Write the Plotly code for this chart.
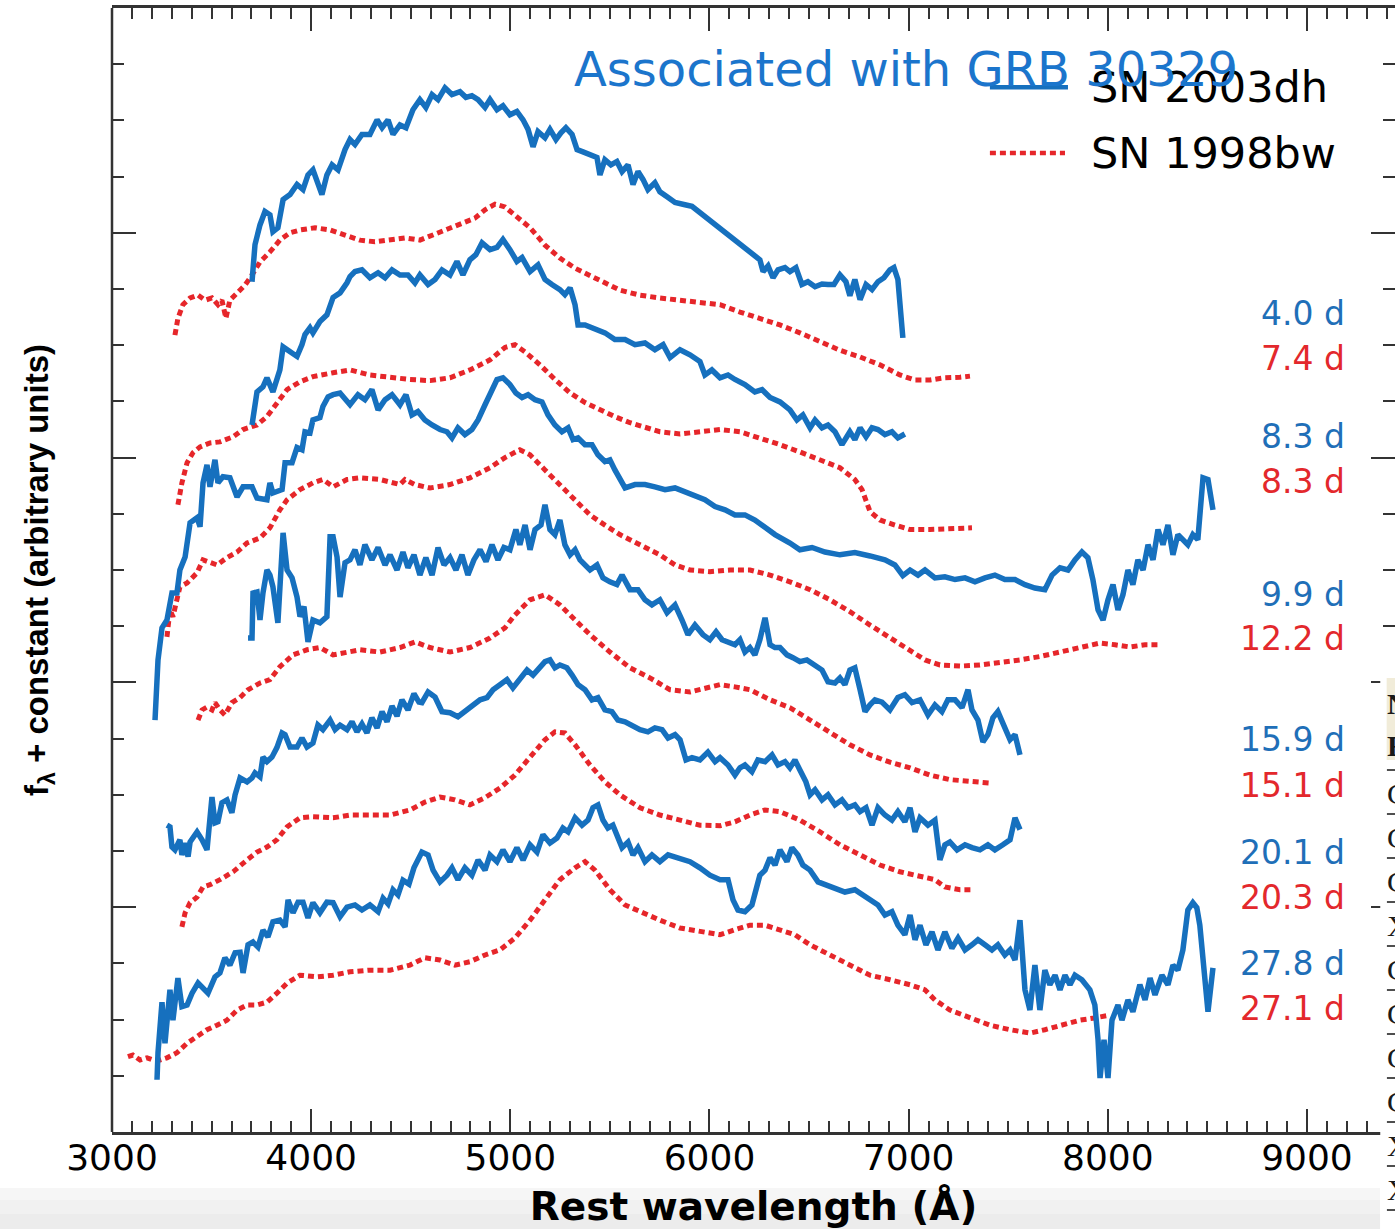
import plotly.graph_objects as go

# ---------------------------------------------------------------------------
# Spectra: rest wavelength (Angstrom) and flux + constant offset (arbitrary)
# SN 2003dh (solid blue) and SN 1998bw (dotted red) at matched epochs
# ---------------------------------------------------------------------------

# SN 2003dh, 4.0 d
dh_4p0_wave = [3703, 3718, 3743, 3768, 3793, 3808, 3833, 3859, 3894, 3929, 3959, 3984, 4009, 4034, 4054, 4079,
               4105, 4135, 4170, 4195, 4220, 4255, 4295, 4331, 4356, 4386, 4411, 4446, 4476, 4511, 4546, 4576,
               4607, 4637, 4672, 4707, 4747, 4777, 4807, 4838, 4873, 4898, 4933, 4963, 4998, 5033, 5064, 5089,
               5114, 5139, 5174, 5199, 5229, 5254, 5279, 5310, 5335, 5365, 5400, 5435, 5450, 5475, 5505, 5535,
               5561, 5591, 5616, 5641, 5666, 5691, 5726, 5751, 5787, 5827, 5877, 5912, 6253, 6269, 6294, 6319,
               6344, 6379, 6404, 6434, 6464, 6494, 6530, 6565, 6595, 6625, 6655, 6685, 6705, 6730, 6756, 6786,
               6816, 6846, 6876, 6906, 6926, 6946, 6971]
dh_4p0_flux = [15.13, 15.79, 16.14, 16.38, 16.32, 16.02, 16.09, 16.59, 16.68, 16.86, 16.77, 17.03, 17.12, 16.86,
               16.68, 17.03, 17.21, 17.12, 17.48, 17.66, 17.57, 17.75, 17.75, 18.01, 17.87, 18.01, 17.75, 17.92,
               17.87, 18.19, 18.37, 18.23, 18.46, 18.37, 18.58, 18.46, 18.51, 18.41, 18.44, 18.37, 18.23, 18.37,
               18.19, 18.26, 18.10, 18.16, 18.01, 17.84, 17.53, 17.80, 17.69, 17.84, 17.66, 17.78, 17.87, 17.75,
               17.48, 17.44, 17.39, 17.34, 17.03, 17.30, 17.21, 17.27, 17.09, 17.21, 16.86, 17.09, 16.95, 16.77,
               16.89, 16.73, 16.64, 16.54, 16.50, 16.47, 15.52, 15.31, 15.41, 15.20, 15.34, 15.38, 15.31, 15.38,
               15.08, 15.13, 15.04, 15.09, 15.08, 15.08, 15.25, 15.13, 14.88, 15.17, 14.81, 15.08, 14.99, 15.13,
               15.20, 15.34, 15.38, 15.17, 14.13]

# SN 2003dh, 8.3 d
dh_8p3_wave = [3703, 3728, 3758, 3778, 3808, 3843, 3859, 3894, 3929, 3954, 3969, 3994, 4009, 4044, 4079, 4110,
               4145, 4180, 4195, 4220, 4255, 4295, 4336, 4371, 4406, 4446, 4486, 4521, 4546, 4587, 4622, 4657,
               4697, 4732, 4762, 4797, 4827, 4858, 4898, 4933, 4963, 4998, 5033, 5059, 5099, 5139, 5174, 5209,
               5249, 5274, 5300, 5325, 5340, 5375, 5425, 5475, 5525, 5576, 5626, 5676, 5726, 5767, 5802, 5852,
               5902, 5952, 5977, 6012, 6053, 6093, 6128, 6178, 6228, 6264, 6304, 6354, 6404, 6439, 6469, 6505,
               6530, 6565, 6595, 6630, 6665, 6705, 6730, 6756, 6786, 6816, 6846, 6881, 6916, 6946, 6981]
dh_8p3_flux = [12.58, 13.17, 13.26, 13.42, 13.17, 13.56, 13.97, 13.87, 13.80, 14.01, 14.19, 14.31, 14.22, 14.42,
               14.54, 14.85, 14.93, 15.11, 15.22, 15.31, 15.34, 15.20, 15.29, 15.20, 15.34, 15.25, 15.25, 15.11,
               15.25, 15.08, 15.17, 15.34, 15.25, 15.49, 15.25, 15.52, 15.61, 15.82, 15.70, 15.74, 15.88, 15.70,
               15.49, 15.56, 15.31, 15.43, 15.17, 15.08, 14.99, 14.90, 15.02, 14.72, 14.36, 14.36, 14.28, 14.22,
               14.10, 14.10, 14.01, 14.04, 13.92, 14.01, 13.78, 13.92, 13.83, 13.71, 13.47, 13.56, 13.42, 13.47,
               13.39, 13.30, 13.17, 13.21, 13.07, 12.99, 12.85, 12.67, 12.76, 12.53, 12.67, 12.53, 12.58, 12.46,
               12.23, 12.46, 12.32, 12.53, 12.37, 12.53, 12.50, 12.41, 12.46, 12.35, 12.42]

# SN 2003dh, 9.9 d
dh_9p9_wave = [3216, 3231, 3251, 3276, 3301, 3326, 3341, 3367, 3392, 3427, 3442, 3457, 3477, 3492, 3517, 3532,
               3557, 3592, 3628, 3658, 3703, 3728, 3778, 3793, 3808, 3854, 3869, 3904, 3929, 3954, 3969, 3994,
               4009, 4044, 4059, 4085, 4110, 4145, 4195, 4235, 4270, 4305, 4336, 4371, 4406, 4446, 4476, 4506,
               4536, 4571, 4607, 4647, 4682, 4707, 4737, 4772, 4807, 4838, 4873, 4898, 4933, 4963, 4998, 5028,
               5059, 5089, 5124, 5159, 5189, 5224, 5259, 5290, 5315, 5340, 5375, 5410, 5440, 5475, 5500, 5525,
               5550, 5576, 5626, 5676, 5726, 5777, 5827, 5877, 5927, 5977, 6028, 6078, 6128, 6178, 6228, 6279,
               6329, 6404, 6454, 6515, 6580, 6655, 6730, 6806, 6881, 6931, 6971, 7007, 7047, 7082, 7132, 7182,
               7233, 7283, 7333, 7383, 7433, 7483, 7534, 7584, 7634, 7684, 7720, 7760, 7800, 7835, 7870, 7900,
               7925, 7951, 7976, 8001, 8026, 8051, 8076, 8101, 8126, 8151, 8177, 8202, 8227, 8252, 8277, 8302,
               8327, 8352, 8377, 8402, 8427, 8452, 8478, 8503, 8528]
dh_9p9_flux = [7.33, 8.40, 8.97, 9.11, 9.59, 9.59, 10.00, 10.23, 10.84, 10.93, 10.77, 11.55, 11.87, 11.48, 11.96,
               11.55, 11.66, 11.64, 11.30, 11.48, 11.48, 11.28, 11.25, 11.55, 11.37, 11.43, 11.91, 11.91, 12.18,
               12.14, 12.46, 12.44, 12.67, 12.71, 12.91, 13.08, 13.12, 13.15, 12.94, 13.12, 13.03, 13.21, 12.85,
               13.03, 13.12, 12.94, 13.12, 12.76, 12.82, 12.67, 12.58, 12.50, 12.46, 12.35, 12.53, 12.41, 12.50,
               12.67, 12.94, 13.12, 13.39, 13.42, 13.30, 13.15, 13.07, 13.12, 13.03, 12.99, 12.76, 12.58, 12.46,
               12.53, 12.32, 12.35, 12.23, 12.23, 12.05, 11.93, 11.96, 11.78, 11.64, 11.46, 11.52, 11.52, 11.48,
               11.43, 11.46, 11.39, 11.30, 11.25, 11.13, 11.07, 10.98, 10.98, 10.89, 10.75, 10.63, 10.48, 10.36,
               10.40, 10.32, 10.27, 10.31, 10.25, 10.18, 10.09, 9.90, 10.00, 9.91, 10.00, 9.86, 9.88, 9.83, 9.86,
               9.79, 9.86, 9.91, 9.83, 9.83, 9.74, 9.68, 9.65, 9.91, 10.04, 10.00, 10.18, 10.32, 10.22, 9.83, 9.29,
               9.11, 9.47, 9.74, 9.29, 9.56, 10.00, 9.74, 10.18, 10.00, 10.45, 10.18, 10.72, 10.45, 10.80, 10.27,
               10.63, 10.54, 10.45, 10.63, 10.54, 11.64, 11.61, 11.07]

# SN 2003dh, 15.9 d
dh_15p9_wave = [3683, 3703, 3708, 3728, 3743, 3758, 3778, 3793, 3808, 3833, 3859, 3879, 3904, 3929, 3944, 3964,
                3984, 4009, 4044, 4079, 4095, 4110, 4130, 4145, 4170, 4195, 4220, 4245, 4270, 4305, 4336, 4371,
                4396, 4431, 4461, 4486, 4516, 4546, 4576, 4607, 4637, 4667, 4697, 4727, 4757, 4787, 4817, 4848,
                4878, 4908, 4938, 4968, 4998, 5028, 5048, 5074, 5099, 5124, 5154, 5174, 5199, 5224, 5249, 5274,
                5300, 5325, 5350, 5375, 5400, 5435, 5465, 5500, 5535, 5561, 5601, 5641, 5676, 5711, 5751, 5787,
                5827, 5862, 5892, 5927, 5967, 6002, 6033, 6063, 6093, 6128, 6153, 6178, 6203, 6228, 6253, 6279,
                6304, 6329, 6354, 6389, 6419, 6454, 6489, 6530, 6565, 6595, 6630, 6655, 6680, 6705, 6730, 6756,
                6781, 6806, 6831, 6866, 6906, 6946, 6981, 7017, 7057, 7097, 7132, 7167, 7197, 7233, 7268, 7298,
                7318, 7348, 7373, 7398, 7423, 7448, 7483, 7509, 7534, 7559]
dh_15p9_flux = [8.79, 8.79, 9.59, 9.61, 9.11, 9.59, 10.00, 9.91, 9.70, 9.06, 10.66, 10.00, 9.86, 9.52, 9.17, 9.35,
                8.72, 9.11, 9.06, 9.17, 10.59, 10.59, 10.23, 9.52, 10.13, 10.18, 10.36, 10.09, 10.45, 10.18, 10.40,
                10.09, 10.27, 10.00, 10.32, 10.04, 10.27, 9.91, 10.22, 9.91, 10.40, 10.09, 10.22, 10.00, 10.27,
                9.91, 10.18, 10.36, 10.15, 10.45, 10.18, 10.40, 10.36, 10.72, 10.45, 10.80, 10.36, 10.72, 10.80,
                11.16, 10.72, 10.63, 10.89, 10.45, 10.27, 10.36, 10.18, 10.09, 10.00, 10.09, 9.86, 9.79, 9.74,
                9.91, 9.65, 9.65, 9.47, 9.38, 9.47, 9.24, 9.38, 9.11, 8.85, 9.02, 8.85, 8.76, 8.90, 8.76, 8.72,
                8.67, 8.76, 8.54, 8.62, 8.49, 8.76, 9.15, 8.67, 8.62, 8.62, 8.49, 8.44, 8.37, 8.40, 8.31, 8.22,
                8.01, 7.99, 8.08, 7.96, 8.22, 8.26, 7.87, 7.48, 7.60, 7.69, 7.65, 7.51, 7.73, 7.78, 7.64, 7.69,
                7.42, 7.60, 7.48, 7.69, 7.69, 7.55, 7.87, 7.51, 7.33, 6.94, 7.07, 7.37, 7.48, 7.16, 6.98, 7.07, 6.71]

# SN 2003dh, 20.1 d
dh_20p1_wave = [3276, 3291, 3301, 3316, 3341, 3351, 3367, 3382, 3392, 3427, 3452, 3477, 3502, 3517, 3532, 3552,
                3577, 3602, 3618, 3643, 3678, 3703, 3718, 3743, 3758, 3778, 3803, 3828, 3854, 3869, 3894, 3929,
                3954, 3979, 4009, 4034, 4059, 4095, 4120, 4145, 4180, 4205, 4230, 4255, 4280, 4305, 4331, 4356,
                4381, 4406, 4431, 4456, 4486, 4516, 4541, 4556, 4587, 4622, 4657, 4697, 4737, 4772, 4807, 4848,
                4883, 4913, 4948, 4983, 5013, 5048, 5084, 5114, 5149, 5174, 5199, 5224, 5249, 5284, 5310, 5340,
                5375, 5410, 5440, 5475, 5510, 5540, 5576, 5611, 5651, 5691, 5726, 5762, 5792, 5827, 5852, 5882,
                5912, 5952, 5992, 6028, 6053, 6093, 6128, 6153, 6178, 6213, 6243, 6279, 6314, 6344, 6379, 6404,
                6429, 6454, 6484, 6505, 6530, 6565, 6595, 6630, 6665, 6695, 6730, 6756, 6786, 6816, 6846, 6881,
                6916, 6946, 6981, 7007, 7032, 7057, 7097, 7132, 7157, 7182, 7207, 7243, 7283, 7318, 7358, 7398,
                7433, 7473, 7509, 7534, 7559]
dh_20p1_flux = [5.46, 5.43, 5.07, 5.02, 5.20, 4.93, 5.14, 4.90, 5.16, 5.34, 5.20, 5.02, 5.96, 5.50, 5.52, 5.86,
                5.91, 5.68, 6.00, 6.30, 6.23, 6.30, 6.39, 6.32, 6.67, 6.59, 6.67, 6.84, 7.10, 7.07, 6.85, 6.85,
                7.01, 6.85, 6.92, 7.24, 7.16, 7.33, 7.16, 7.24, 7.16, 7.30, 7.12, 7.26, 7.10, 7.37, 7.19, 7.48,
                7.30, 7.58, 7.40, 7.69, 7.51, 7.80, 7.65, 7.64, 7.83, 7.74, 7.48, 7.46, 7.39, 7.48, 7.60, 7.69,
                7.73, 7.87, 7.96, 8.05, 7.90, 8.05, 8.22, 8.13, 8.26, 8.37, 8.40, 8.26, 8.31, 8.26, 8.13, 7.96,
                7.87, 7.69, 7.73, 7.51, 7.48, 7.33, 7.30, 7.24, 7.16, 7.12, 7.19, 7.16, 7.01, 7.07, 6.98, 6.62,
                6.66, 6.62, 6.76, 6.59, 6.66, 6.53, 6.35, 6.48, 6.53, 6.41, 6.62, 6.59, 6.71, 6.53, 6.59, 6.48,
                6.62, 6.44, 6.23, 6.00, 6.09, 5.91, 6.00, 5.82, 5.91, 5.77, 5.82, 5.70, 5.77, 5.46, 5.77, 5.64,
                5.55, 5.70, 5.52, 5.77, 5.34, 5.59, 5.46, 5.55, 4.84, 5.11, 5.16, 5.02, 5.11, 5.06, 5.02, 5.11,
                5.02, 5.11, 5.20, 5.59, 5.38]

# SN 2003dh, 27.8 d
dh_27p8_wave = [3226, 3231, 3251, 3266, 3291, 3306, 3331, 3351, 3377, 3402, 3432, 3457, 3482, 3517, 3542, 3567,
                3592, 3618, 3643, 3658, 3683, 3708, 3733, 3758, 3783, 3808, 3843, 3869, 3884, 3909, 3934, 3959,
                3984, 4009, 4044, 4079, 4110, 4145, 4180, 4220, 4255, 4295, 4336, 4361, 4386, 4411, 4436, 4461,
                4491, 4516, 4541, 4556, 4587, 4612, 4647, 4682, 4707, 4737, 4772, 4807, 4838, 4873, 4898, 4933,
                4963, 4998, 5033, 5064, 5099, 5134, 5164, 5199, 5234, 5264, 5290, 5325, 5360, 5390, 5415, 5440,
                5465, 5490, 5515, 5540, 5561, 5591, 5616, 5641, 5676, 5711, 5751, 5792, 5832, 5867, 5902, 5952,
                6002, 6053, 6093, 6118, 6143, 6178, 6213, 6253, 6279, 6304, 6329, 6354, 6389, 6414, 6444, 6469,
                6505, 6545, 6580, 6630, 6680, 6730, 6766, 6806, 6846, 6881, 6916, 6946, 6981, 7007, 7032, 7057,
                7087, 7117, 7147, 7182, 7217, 7248, 7283, 7318, 7348, 7383, 7418, 7448, 7483, 7509, 7534, 7559,
                7584, 7609, 7634, 7659, 7684, 7709, 7735, 7760, 7785, 7810, 7835, 7870, 7910, 7935, 7951, 7961,
                7981, 8001, 8021, 8051, 8071, 8101, 8126, 8161, 8187, 8212, 8237, 8272, 8302, 8327, 8352, 8377,
                8402, 8427, 8447, 8462, 8478, 8503, 8528]
dh_27p8_flux = [0.93, 1.41, 2.31, 1.58, 2.53, 1.99, 2.74, 2.23, 2.26, 2.47, 2.65, 2.56, 2.47, 2.76, 2.83, 3.10,
                2.97, 3.19, 3.20, 2.83, 3.33, 3.38, 3.29, 3.59, 3.47, 3.74, 3.77, 3.65, 4.13, 3.90, 4.09, 4.09,
                3.81, 4.08, 3.90, 4.09, 4.08, 3.83, 4.00, 4.04, 3.95, 4.04, 3.92, 4.16, 4.06, 4.31, 4.22, 4.48,
                4.41, 4.70, 4.88, 4.98, 4.93, 4.66, 4.45, 4.57, 4.70, 4.49, 4.70, 4.57, 4.84, 4.66, 4.93, 4.81,
                5.02, 4.81, 5.06, 4.84, 5.11, 4.98, 5.29, 5.14, 5.23, 5.41, 5.34, 5.59, 5.46, 5.55, 5.77, 5.82,
                5.55, 5.41, 5.46, 5.23, 5.06, 5.16, 4.93, 5.06, 4.81, 4.93, 4.81, 4.93, 4.88, 4.84, 4.81, 4.70,
                4.57, 4.49, 4.49, 4.13, 3.95, 3.92, 4.04, 4.57, 4.66, 4.88, 4.75, 5.02, 4.81, 5.06, 4.93, 4.75,
                4.66, 4.45, 4.40, 4.34, 4.27, 4.31, 4.22, 4.13, 4.04, 3.86, 3.92, 3.68, 3.51, 3.86, 3.42, 3.68,
                3.33, 3.56, 3.24, 3.56, 3.27, 3.45, 3.24, 3.33, 3.42, 3.33, 3.24, 3.33, 3.15, 3.24, 3.06, 3.77,
                2.53, 2.17, 2.97, 2.17, 2.88, 2.62, 2.79, 2.53, 2.79, 2.62, 2.79, 2.71, 2.53, 2.26, 1.64, 0.96,
                1.64, 0.96, 1.99, 2.26, 1.99, 2.35, 2.14, 2.62, 2.35, 2.74, 2.44, 2.79, 2.62, 2.97, 2.88, 3.24,
                3.95, 4.08, 3.99, 3.68, 3.15, 2.14, 2.92]

# SN 1998bw, 7.4 d
bw_7p4_wave = [3316, 3331, 3356, 3392, 3432, 3467, 3502, 3532, 3552, 3572, 3592, 3633, 3668, 3703, 3743, 3793,
               3843, 3894, 3944, 4019, 4095, 4170, 4245, 4320, 4396, 4471, 4546, 4647, 4747, 4822, 4873, 4923,
               4973, 5023, 5099, 5174, 5249, 5325, 5400, 5475, 5550, 5651, 5751, 5852, 5952, 6053, 6153, 6253,
               6354, 6454, 6555, 6655, 6756, 6856, 6956, 7032, 7107, 7182, 7258, 7308]
bw_7p4_flux = [14.18, 14.48, 14.72, 14.84, 14.89, 14.80, 14.84, 14.72, 14.80, 14.48, 14.80, 14.95, 15.07, 15.25,
               15.48, 15.66, 15.87, 16.00, 16.05, 16.09, 16.05, 15.96, 15.87, 15.84, 15.87, 15.91, 15.87, 16.01,
               16.14, 16.26, 16.41, 16.51, 16.46, 16.32, 16.09, 15.78, 15.55, 15.37, 15.25, 15.11, 14.98, 14.89,
               14.84, 14.80, 14.75, 14.72, 14.59, 14.48, 14.36, 14.22, 14.06, 13.91, 13.79, 13.65, 13.47, 13.38,
               13.38, 13.42, 13.43, 13.45]

# SN 1998bw, 8.3 d
bw_8p3_wave = [3331, 3351, 3377, 3407, 3442, 3492, 3542, 3608, 3658, 3728, 3778, 3828, 3879, 3944, 4009, 4110,
               4195, 4295, 4396, 4496, 4597, 4697, 4797, 4898, 4973, 5023, 5074, 5149, 5224, 5300, 5375, 5450,
               5525, 5601, 5676, 5751, 5852, 5952, 6053, 6153, 6253, 6354, 6454, 6555, 6655, 6730, 6766, 6806,
               6856, 6931, 7007, 7107, 7207, 7318]
bw_8p3_flux = [11.16, 11.55, 11.91, 12.09, 12.19, 12.26, 12.28, 12.37, 12.50, 12.58, 12.73, 12.98, 13.21, 13.35,
               13.44, 13.51, 13.56, 13.47, 13.42, 13.39, 13.37, 13.42, 13.56, 13.74, 13.96, 14.01, 13.88, 13.65,
               13.39, 13.15, 12.98, 12.85, 12.73, 12.62, 12.53, 12.46, 12.42, 12.46, 12.50, 12.46, 12.35, 12.23,
               12.10, 11.96, 11.82, 11.61, 11.43, 11.04, 10.89, 10.80, 10.72, 10.72, 10.73, 10.75]

# SN 1998bw, 12.2 d
bw_12p2_wave = [3276, 3291, 3306, 3326, 3341, 3377, 3427, 3457, 3492, 3527, 3577, 3628, 3678, 3743, 3793, 3843,
                3879, 3944, 4009, 4059, 4110, 4180, 4245, 4346, 4446, 4471, 4521, 4597, 4697, 4797, 4898, 4973,
                5048, 5099, 5174, 5249, 5325, 5400, 5475, 5550, 5651, 5751, 5827, 5902, 6002, 6103, 6203, 6304,
                6404, 6505, 6605, 6705, 6806, 6906, 7007, 7082, 7157, 7258, 7358, 7458, 7559, 7659, 7760, 7860,
                7961, 8036, 8111, 8187, 8262]
bw_12p2_flux = [8.81, 9.29, 9.17, 9.47, 9.70, 9.77, 9.95, 10.18, 10.13, 10.09, 10.22, 10.32, 10.48, 10.57, 10.75,
                11.07, 11.25, 11.43, 11.55, 11.61, 11.48, 11.61, 11.64, 11.61, 11.52, 11.61, 11.52, 11.46, 11.52,
                11.64, 11.82, 12.00, 12.14, 12.05, 11.78, 11.52, 11.25, 10.98, 10.80, 10.63, 10.45, 10.27, 10.09,
                10.00, 9.97, 10.00, 10.00, 9.91, 9.79, 9.65, 9.47, 9.26, 9.02, 8.79, 8.58, 8.40, 8.31, 8.29, 8.31,
                8.35, 8.40, 8.46, 8.54, 8.62, 8.70, 8.67, 8.63, 8.67, 8.67]

# SN 1998bw, 15.1 d
bw_15p1_wave = [3432, 3452, 3477, 3502, 3517, 3542, 3567, 3602, 3643, 3683, 3743, 3793, 3843, 3879, 3909, 3979,
                4044, 4110, 4180, 4245, 4346, 4446, 4521, 4597, 4697, 4797, 4898, 4973, 5023, 5099, 5174, 5249,
                5325, 5400, 5500, 5601, 5701, 5802, 5902, 5977, 6053, 6128, 6203, 6304, 6404, 6505, 6605, 6705,
                6806, 6906, 7007, 7107, 7207, 7308, 7408]
bw_15p1_flux = [7.33, 7.51, 7.56, 7.51, 7.64, 7.51, 7.42, 7.64, 7.73, 7.87, 7.99, 8.05, 8.28, 8.40, 8.49, 8.58,
                8.62, 8.49, 8.54, 8.58, 8.54, 8.62, 8.72, 8.62, 8.54, 8.62, 8.79, 8.97, 9.20, 9.47, 9.56, 9.38,
                9.11, 8.85, 8.54, 8.26, 8.08, 7.87, 7.83, 7.90, 7.96, 7.92, 7.87, 7.69, 7.55, 7.33, 7.10, 6.89,
                6.71, 6.58, 6.48, 6.35, 6.27, 6.23, 6.21]

# SN 1998bw, 20.3 d
bw_20p3_wave = [3351, 3367, 3392, 3427, 3457, 3492, 3542, 3608, 3678, 3728, 3778, 3828, 3879, 3944, 4009, 4110,
                4195, 4295, 4396, 4496, 4571, 4647, 4722, 4797, 4873, 4948, 5023, 5099, 5174, 5224, 5274, 5325,
                5400, 5475, 5550, 5651, 5751, 5852, 5952, 6053, 6128, 6203, 6279, 6354, 6454, 6555, 6655, 6756,
                6856, 6956, 7057, 7132, 7182, 7258, 7318]
bw_20p3_flux = [3.65, 3.90, 4.08, 4.18, 4.36, 4.40, 4.49, 4.63, 4.84, 4.98, 5.07, 5.20, 5.43, 5.59, 5.61, 5.59,
                5.64, 5.64, 5.64, 5.73, 5.87, 5.96, 5.91, 5.82, 5.95, 6.12, 6.35, 6.67, 6.98, 7.12, 7.10, 6.89,
                6.53, 6.23, 6.00, 5.77, 5.64, 5.55, 5.46, 5.45, 5.52, 5.64, 5.73, 5.70, 5.55, 5.34, 5.11, 4.93,
                4.75, 4.63, 4.54, 4.49, 4.36, 4.31, 4.31]

# SN 1998bw, 27.1 d
bw_27p1_wave = [3080, 3105, 3141, 3176, 3206, 3241, 3276, 3326, 3377, 3427, 3477, 3527, 3577, 3628, 3678, 3728,
                3778, 3828, 3879, 3944, 4029, 4110, 4195, 4295, 4396, 4496, 4571, 4647, 4722, 4797, 4873, 4948,
                5023, 5099, 5174, 5249, 5325, 5375, 5425, 5500, 5576, 5651, 5751, 5852, 5952, 6053, 6128, 6203,
                6279, 6354, 6429, 6505, 6605, 6705, 6806, 6906, 7007, 7082, 7132, 7207, 7308, 7408, 7509, 7609,
                7684, 7760, 7860, 7935, 8011]
bw_27p1_flux = [1.34, 1.37, 1.28, 1.32, 1.28, 1.28, 1.32, 1.41, 1.58, 1.69, 1.82, 1.90, 1.99, 2.17, 2.26, 2.26,
                2.31, 2.47, 2.65, 2.79, 2.76, 2.79, 2.85, 2.88, 2.88, 2.97, 3.10, 3.06, 2.97, 3.03, 3.15, 3.24,
                3.45, 3.77, 4.13, 4.49, 4.70, 4.81, 4.66, 4.31, 4.04, 3.92, 3.77, 3.63, 3.56, 3.51, 3.60, 3.68,
                3.68, 3.60, 3.51, 3.33, 3.15, 2.97, 2.79, 2.71, 2.62, 2.53, 2.35, 2.17, 2.03, 1.90, 1.82, 1.76,
                1.82, 1.90, 1.99, 2.03, 2.08]

# Epoch labels (days after the burst / explosion)
dh_epochs = ["4.0 d", "8.3 d", "9.9 d", "15.9 d", "20.1 d", "27.8 d"]
bw_epochs = ["7.4 d", "8.3 d", "12.2 d", "15.1 d", "20.3 d", "27.1 d"]

series_names = ["SN 2003dh", "SN 1998bw"]
x_tick_values = [3000, 4000, 5000, 6000, 7000, 8000, 9000]
x_tick_labels = ["3000", "4000", "5000", "6000", "7000", "8000", "9000"]

# ---------------------------------------------------------------------------
BLUE = "#1670be"
RED = "#e6262a"
BLUE_TXT = "#1f6fb8"
RED_TXT = "#e3282c"
AXIS = "#333333"
RED_DASH = "6px,4px"

dh_spectra = [(dh_4p0_wave, dh_4p0_flux), (dh_8p3_wave, dh_8p3_flux), (dh_9p9_wave, dh_9p9_flux),
              (dh_15p9_wave, dh_15p9_flux), (dh_20p1_wave, dh_20p1_flux), (dh_27p8_wave, dh_27p8_flux)]
bw_spectra = [(bw_7p4_wave, bw_7p4_flux), (bw_8p3_wave, bw_8p3_flux), (bw_12p2_wave, bw_12p2_flux),
              (bw_15p1_wave, bw_15p1_flux), (bw_20p3_wave, bw_20p3_flux), (bw_27p1_wave, bw_27p1_flux)]

fig = go.Figure()

for (w, f), ep in zip(bw_spectra, bw_epochs):
    fig.add_trace(go.Scatter(x=w, y=f, mode="lines", name=f"{series_names[1]} {ep}",
                             line=dict(color=RED, width=5, dash=RED_DASH), showlegend=False))
for (w, f), ep in zip(dh_spectra, dh_epochs):
    fig.add_trace(go.Scatter(x=w, y=f, mode="lines", name=f"{series_names[0]} {ep}",
                             line=dict(color=BLUE, width=5.5), showlegend=False))

# epoch labels on the right, blue/red pairs
label_font = "DejaVu Sans"
blue_label_y = [14.57, 12.38, 9.57, 6.98, 4.98, 2.99]
red_label_y = [13.77, 11.58, 8.79, 6.17, 4.18, 2.19]
for txt, yy in zip(dh_epochs, blue_label_y):
    fig.add_annotation(x=9200, y=yy, text=txt, showarrow=False, xanchor="right", yanchor="middle",
                       font=dict(family=label_font, size=33, color=BLUE_TXT))
for txt, yy in zip(bw_epochs, red_label_y):
    fig.add_annotation(x=9200, y=yy, text=txt, showarrow=False, xanchor="right", yanchor="middle",
                       font=dict(family=label_font, size=33, color=RED_TXT))

# legend: long line samples with labels
fig.add_shape(type="line", x0=7408, x1=7800, y0=18.59, y1=18.59, xref="x", yref="y",
              line=dict(color=BLUE, width=4.5), layer="above")
fig.add_shape(type="line", x0=7408, x1=7785, y0=17.42, y1=17.42, xref="x", yref="y",
              line=dict(color=RED, width=4.5, dash=RED_DASH), layer="above")
fig.add_annotation(x=7905, y=18.59, text=series_names[0], showarrow=False, xanchor="left", yanchor="middle",
                   font=dict(family=label_font, size=43, color="black"))
fig.add_annotation(x=7905, y=17.42, text=series_names[1], showarrow=False, xanchor="left", yanchor="middle",
                   font=dict(family=label_font, size=43, color="black"))

# note written over the top of the panel
fig.add_annotation(x=5310, y=18.92, text="Associated with GRB 30329", showarrow=False,
                   xanchor="left", yanchor="middle",
                   font=dict(family="DejaVu Sans", size=48, color="#1b75cc"))

# left frame line (y axis line hidden so the right edge stays open)
fig.add_shape(type="line", xref="paper", yref="paper", x0=0, x1=0, y0=0, y1=1,
              line=dict(color=AXIS, width=2.5), layer="above")

# neighbouring table at the right edge
fig.add_shape(type="rect", xref="paper", yref="paper", x0=0.9885, x1=1.01, y0=-0.09, y1=0.4048,
              fillcolor="white", line=dict(width=0), layer="above")
fig.add_shape(type="rect", xref="paper", yref="paper", x0=0.9935, x1=1.01, y0=0.331, y1=0.4040,
              fillcolor="#f1ecd9", line=dict(width=0), layer="above")
row_line_y = [770, 814, 858, 902, 946, 990, 1034, 1078, 1122, 1166, 1210]
for py in row_line_y:
    yy = (1132 - py) / 1124
    fig.add_shape(type="line", xref="paper", yref="paper", x0=0.9937, x1=1.01, y0=yy, y1=yy,
                  line=dict(color="#222222", width=1.6), layer="above")
table_letters = ["N", "R", "C", "C", "C", "X", "C", "C", "C", "C", "X", "X"]
table_letter_y = [703, 745, 793, 837, 881, 925, 969, 1013, 1057, 1101, 1145, 1189]
for ch, py in zip(table_letters, table_letter_y):
    fig.add_annotation(xref="paper", yref="paper", x=(1385 - 112) / 1283, y=(1132 - py) / 1124, text=ch,
                       showarrow=False, xanchor="left", yanchor="middle",
                       font=dict(family="Liberation Serif", size=30, color="#1a1a1a",
                                 weight="bold" if py < 760 else "normal"))

# soft grey band along the bottom of the page
for y0, y1, col in [(1188, 1200, "#f6f6f6"), (1200, 1214, "#f1f1f1"), (1214, 1232, "#ececec")]:
    fig.add_shape(type="rect", xref="paper", yref="paper", x0=-0.1, x1=0.9885,
                  y0=(1132 - y1) / 1124, y1=(1132 - y0) / 1124,
                  fillcolor=col, line=dict(width=0), layer="below")

fig.update_xaxes(
    range=[3000, 9442], showgrid=False, zeroline=False, automargin=False,
    showline=True, linecolor=AXIS, linewidth=2.5, mirror="ticks",
    ticks="inside", ticklen=23, tickwidth=2, tickcolor=AXIS,
    tickvals=x_tick_values, ticktext=x_tick_labels, ticklabelstandoff=-8,
    tickfont=dict(family="DejaVu Sans", size=36, color="black"),
    minor=dict(ticks="inside", ticklen=11, tickwidth=2, tickcolor=AXIS, dtick=100, showgrid=False),
    title=dict(text="Rest wavelength (Å)", standoff=27,
               font=dict(family="DejaVu Sans", size=39, color="black", weight="bold")),
)
fig.update_yaxes(
    range=[0, 20], showgrid=False, zeroline=False, automargin=False,
    showline=False, mirror="ticks",
    ticks="inside", ticklen=24, tickwidth=2, tickcolor=AXIS, dtick=4, tick0=0,
    showticklabels=False,
    minor=dict(ticks="inside", ticklen=12, tickwidth=2, tickcolor=AXIS, dtick=1, showgrid=False),
    title=dict(text="f<sub>λ</sub> + constant (arbitrary units)", standoff=52,
               font=dict(family="Liberation Sans", size=33, color="black", weight="bold")),
)

fig.update_layout(
    width=1395, height=1229,
    margin=dict(l=112, r=0, t=8, b=97),
    paper_bgcolor="white", plot_bgcolor="white",
    showlegend=False,
)

fig.write_html("out.html")
